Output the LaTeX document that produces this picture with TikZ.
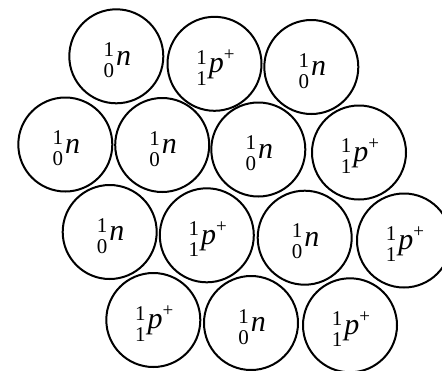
\documentclass[tikz,border=0pt]{standalone}
\usepackage{fontspec}
\setmainfont{Liberation Serif}
\newcommand{\pre}[2]{\hspace{2pt}{\fontsize{21}{21}\selectfont\rlap{\raisebox{8.5pt}{#1}}\raisebox{-12.5pt}{#2}}\hspace{2pt}}
\newcommand{\neu}{\pre{1}{0}\textit{n}}
\newcommand{\pro}{\pre{1}{1}\textit{p}\raisebox{12pt}{\fontsize{19}{19}\selectfont +}}
\begin{document}
\begin{tikzpicture}[x=1pt,y=-1pt,
  ball/.style={circle,draw=black,line width=2pt,minimum size=94pt,inner sep=0pt,
    text height=17.4pt,text depth=0pt,
    font=\fontsize{30}{30}\selectfont}]
\useasboundingbox (0,0) rectangle (442,370);
\clip (0,0) rectangle (442,370);
% row 1
\node[ball] (a) at (116.3,56.3) {\neu};
\node[ball] (b) at (214.5,63.8) {\pro};
\node[ball] (c) at (311.3,67) {\neu};
% row 2
\node[ball] (d) at (65.3,144.5) {\neu};
\node[ball] (e) at (162.2,145) {\neu};
\node[ball] (f) at (258.3,149.5) {\neu};
\node[ball] (g) at (359,152.5) {\pro};
% row 3
\node[ball] (h) at (109.7,232) {\neu};
\node[ball] (i) at (206.8,235.3) {\pro};
\node[ball] (j) at (304.7,237.7) {\neu};
\node[ball] (k) at (404,240.5) {\pro};
% row 4
\node[ball] (l) at (153.3,320) {\pro};
\node[ball] (m) at (251,323) {\neu};
\node[ball] (n) at (350,325.3) {\pro};
\end{tikzpicture}
\end{document}
